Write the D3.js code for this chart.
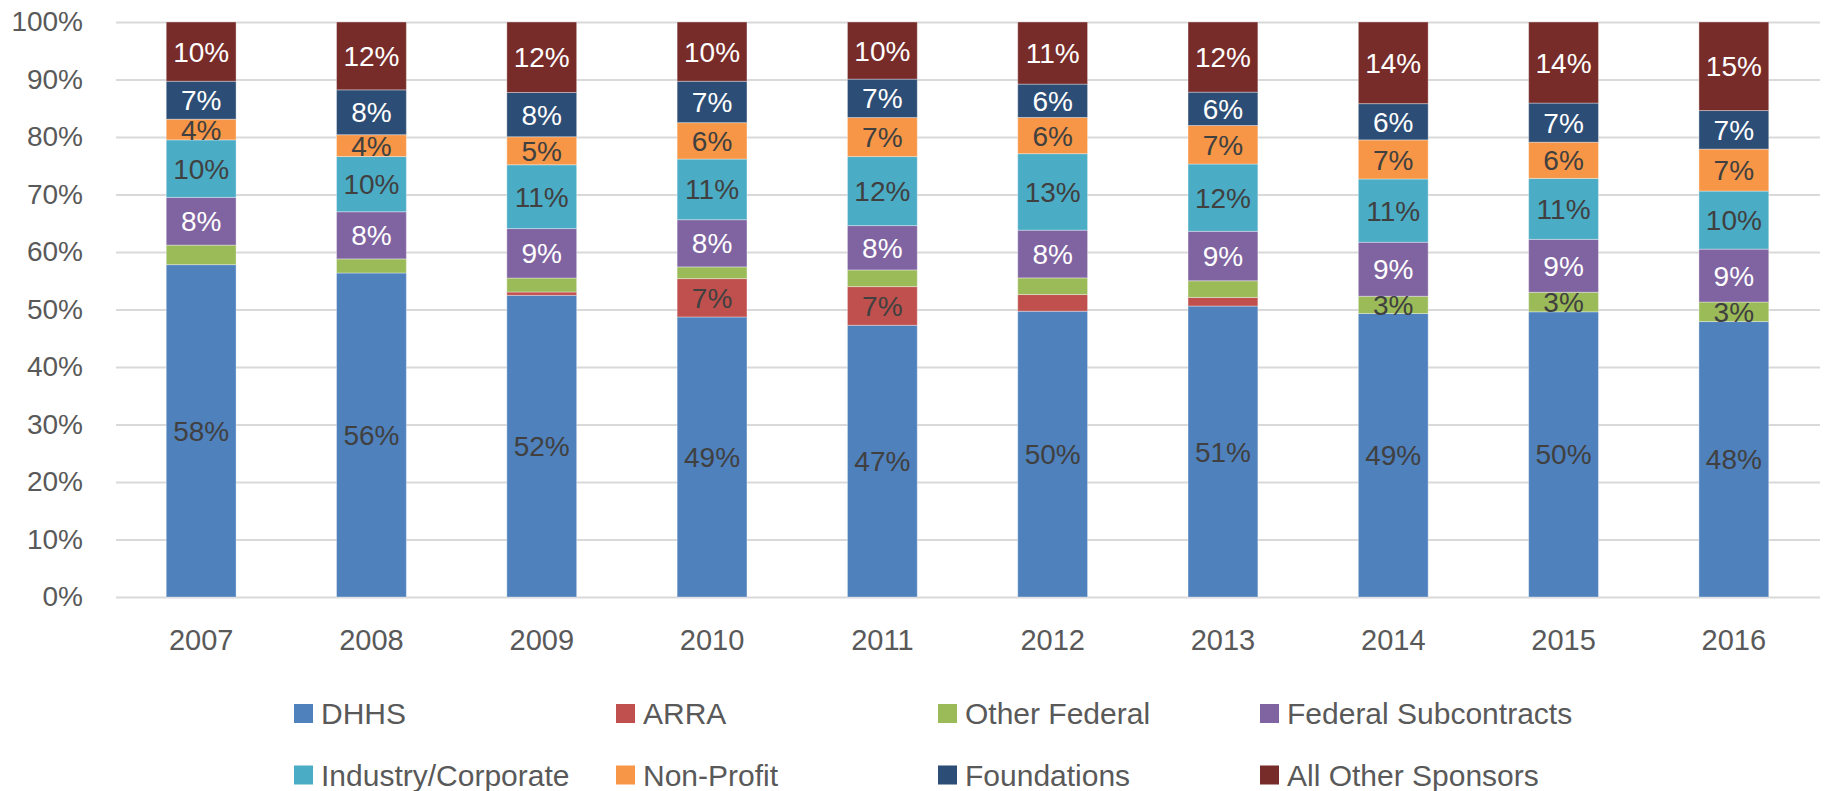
<!DOCTYPE html>
<html>
<head>
<meta charset="utf-8">
<script src="https://cdn.jsdelivr.net/npm/d3@7"></script>
<style>
  body { margin: 0; background: #fff; }
  svg text { font-family: "Liberation Sans", Arial, sans-serif; }
</style>
</head>
<body>
<div id="chart"></div>
<script>
//----------DATA----------
var years = ["2007", "2008", "2009", "2010", "2011", "2012", "2013", "2014", "2015", "2016"];

// share of sponsored funding by source, in %
var dhhs                = [57.8, 56.35, 52.47, 48.69, 47.25, 49.7, 50.6, 49.3, 49.6, 47.9];
var arra                = [0, 0, 0.58, 6.67, 6.72, 2.9, 1.5, 0, 0, 0];
var otherFederal        = [3.4, 2.45, 2.43, 2.04, 2.9, 2.9, 2.9, 3.0, 3.4, 3.4];
var federalSubcontracts = [8.3, 8.2, 8.6, 8.2, 7.71, 8.3, 8.6, 9.4, 9.2, 9.2];
var industryCorporate   = [10.0, 9.6, 11.1, 10.55, 12.0, 13.3, 11.7, 11.0, 10.6, 10.1];
var nonProfit           = [3.6, 3.8, 4.87, 6.33, 6.79, 6.3, 6.7, 6.8, 6.3, 7.3];
var foundations         = [6.6, 7.8, 7.7, 7.2, 6.68, 5.8, 5.8, 6.3, 6.8, 6.7];
var allOtherSponsors    = [10.3, 11.8, 12.26, 10.3, 9.93, 10.8, 12.2, 14.2, 14.1, 15.4];

var seriesNames = ["DHHS", "ARRA", "Other Federal", "Federal Subcontracts",
                   "Industry/Corporate", "Non-Profit", "Foundations", "All Other Sponsors"];
var seriesValues = [dhhs, arra, otherFederal, federalSubcontracts,
                    industryCorporate, nonProfit, foundations, allOtherSponsors];

// the thin segments only carry a label in these years
var arraLabelYears = ["2010", "2011"];
var otherFederalLabelYears = ["2014", "2015", "2016"];

var colors = ["#4F81BD", "#C0504D", "#9BBB59", "#8064A2", "#4BACC6", "#F79646", "#2C4D75", "#772C2A"];
var labelColors = ["#404040", "#404040", "#404040", "#fff", "#404040", "#404040", "#fff", "#fff"];

//----------SVG----------
var svgWidth = 1830;
var svgHeight = 791;

var plotLeft = 116;
var plotRight = 1820;
var plotTop = 22;
var plotBottom = 597;

var svg = d3.select('#chart')
    .append('svg')
    .attr('width', svgWidth)
    .attr('height', svgHeight);

// build rows for d3.stack
var table = years.map(function(year, i) {
    var row = { year: year };
    seriesNames.forEach(function(name, s) {
        row[name] = seriesValues[s][i];
    });
    return row;
});

var stacked = d3.stack()
    .keys(seriesNames)
    .offset(d3.stackOffsetExpand)(table);

//scales
var xScale = d3.scaleBand()
    .domain(years)
    .range([plotLeft, plotRight - 1])
    .paddingInner(0.59)
    .paddingOuter(0.295);

var yScale = d3.scaleLinear()
    .domain([0, 1])
    .range([plotBottom, plotTop]);

//gridlines
var grid = svg.append('g')
    .attr('transform', `translate(${plotLeft}, 0)`)
    .call(d3.axisLeft(yScale).ticks(10).tickSize(-(plotRight - plotLeft)).tickFormat(''));
grid.select('.domain').remove();
grid.selectAll('line')
    .attr('stroke', '#D9D9D9')
    .attr('stroke-width', 2);

//y axis labels
var yAxis = svg.append('g')
    .attr('transform', `translate(${plotLeft}, 0)`)
    .call(d3.axisLeft(yScale).ticks(10).tickSize(0).tickPadding(33).tickFormat(d3.format('.0%')));
yAxis.select('.domain').remove();
yAxis.selectAll('text')
    .attr('fill', '#595959')
    .style('font-size', '28px');

//x axis labels
var xAxis = svg.append('g')
    .attr('transform', `translate(0, ${plotBottom})`)
    .call(d3.axisBottom(xScale).tickSize(0).tickPadding(32));
xAxis.select('.domain').remove();
xAxis.selectAll('text')
    .attr('fill', '#595959')
    .style('font-size', '29px');

//stacked bars
var layers = svg.selectAll('.layer')
    .data(stacked)
    .enter()
    .append('g')
    .attr('class', 'layer')
    .attr('fill', (d, i) => colors[i]);

layers.selectAll('rect')
    .data(d => d)
    .enter()
    .append('rect')
    .attr('x', d => xScale(d.data.year))
    .attr('y', d => yScale(d[1]))
    .attr('width', xScale.bandwidth())
    .attr('height', d => yScale(d[0]) - yScale(d[1]))
    .attr('stroke', '#fff')
    .attr('stroke-opacity', 0.35)
    .attr('stroke-width', 1);

//data labels
function showLabel(seriesIndex, year) {
    if (seriesIndex === 1) return arraLabelYears.indexOf(year) >= 0;
    if (seriesIndex === 2) return otherFederalLabelYears.indexOf(year) >= 0;
    return true;
}

stacked.forEach(function(layer, s) {
    svg.append('g')
        .selectAll('text')
        .data(layer.filter(d => showLabel(s, d.data.year)))
        .enter()
        .append('text')
        .attr('x', d => xScale(d.data.year) + xScale.bandwidth() / 2)
        .attr('y', d => (yScale(d[0]) + yScale(d[1])) / 2)
        .attr('dy', '0.36em')
        .attr('text-anchor', 'middle')
        .attr('fill', labelColors[s])
        .style('font-size', '28px')
        .text(d => Math.round((d[1] - d[0]) * 100) + '%');
});

//legend, two rows of four
var legend = svg.append('g');
var legendItems = legend.selectAll('g')
    .data(seriesNames)
    .enter()
    .append('g')
    .attr('transform', (d, i) => `translate(${294 + (i % 4) * 322}, ${713.5 + Math.floor(i / 4) * 61.5})`);

legendItems.append('rect')
    .attr('x', 0)
    .attr('y', -9.5)
    .attr('width', 19)
    .attr('height', 19)
    .attr('fill', (d, i) => colors[i]);

legendItems.append('text')
    .attr('x', 27)
    .attr('dy', '0.36em')
    .attr('fill', '#595959')
    .style('font-size', '30px')
    .text(d => d);
</script>
</body>
</html>
